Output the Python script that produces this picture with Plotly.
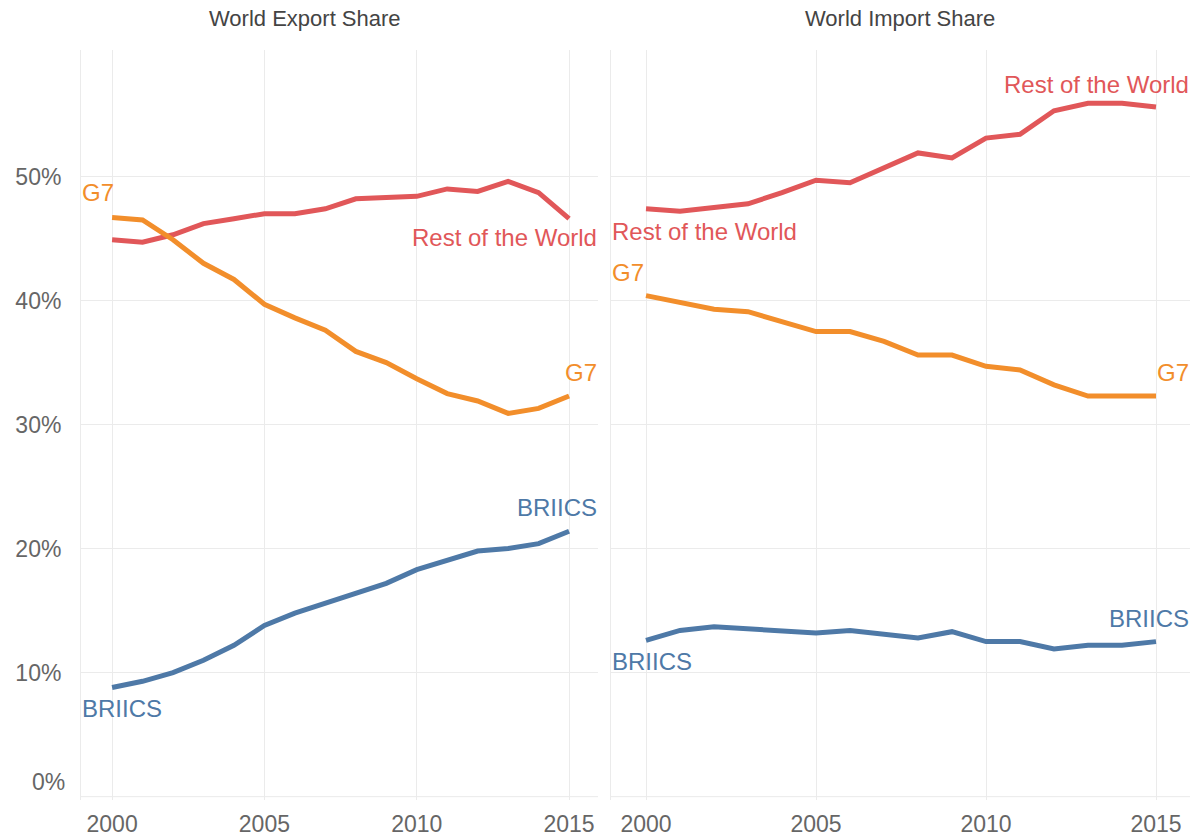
import plotly.graph_objects as go

years = list(range(2000, 2016))

# world export share (%)
exp_rest = [44.9, 44.7, 45.3, 46.2, 46.6, 47.0, 47.0, 47.4, 48.2, 48.3, 48.4, 49.0, 48.8, 49.6, 48.7, 46.6]
exp_g7 = [46.7, 46.5, 44.9, 43.0, 41.7, 39.7, 38.6, 37.6, 35.9, 35.0, 33.7, 32.5, 31.9, 30.9, 31.3, 32.3]
exp_briics = [8.8, 9.3, 10.0, 11.0, 12.2, 13.8, 14.8, 15.6, 16.4, 17.2, 18.3, 19.0, 19.8, 20.0, 20.4, 21.4]

# world import share (%)
imp_rest = [47.4, 47.2, 47.5, 47.8, 48.7, 49.7, 49.5, 50.7, 51.9, 51.5, 53.1, 53.4, 55.3, 55.9, 55.9, 55.6]
imp_g7 = [40.4, 39.8, 39.3, 39.1, 38.3, 37.5, 37.5, 36.7, 35.6, 35.6, 34.7, 34.4, 33.2, 32.3, 32.3, 32.3]
imp_briics = [12.6, 13.4, 13.7, 13.5, 13.4, 13.2, 13.4, 13.1, 12.8, 13.3, 12.5, 12.5, 11.9, 12.2, 12.2, 12.5]

panel_titles = ["World Export Share", "World Import Share"]
y_ticks = [10, 20, 30, 40, 50]
y_ticktext = ["10%", "20%", "30%", "40%", "50%"]
x_ticks = [2000, 2005, 2010, 2015]

RED = "#E15759"
ORANGE = "#F28E2B"
BLUE = "#4E79A7"
GRID = "#EBEBEB"
FONT = "Liberation Sans, Arial, sans-serif"

fig = go.Figure()

series = [
    (exp_rest, RED, "x", "y"), (exp_g7, ORANGE, "x", "y"), (exp_briics, BLUE, "x", "y"),
    (imp_rest, RED, "x2", "y2"), (imp_g7, ORANGE, "x2", "y2"), (imp_briics, BLUE, "x2", "y2"),
]
for vals, col, xa, ya in series:
    fig.add_trace(go.Scatter(x=years, y=vals, mode="lines", xaxis=xa, yaxis=ya,
                             line=dict(color=col, width=5), showlegend=False, hoverinfo="skip"))

axis_common = dict(showgrid=True, gridcolor=GRID, gridwidth=1, zeroline=False, ticks="",
                   tickfont=dict(size=23, color="#666666", family=FONT))

fig.update_layout(
    width=1190, height=837,
    margin=dict(l=81, r=0, t=50, b=37),
    plot_bgcolor="white", paper_bgcolor="white",
    font=dict(family=FONT),
    xaxis=dict(domain=[0, 0.4662], range=[1998.98, 2015.95], tickvals=x_ticks, anchor="y",
               ticklabelstandoff=8, **axis_common),
    xaxis2=dict(domain=[0.4779, 1], range=[1998.97, 2016.0], tickvals=x_ticks, anchor="y2",
                ticklabelstandoff=8, **axis_common),
    yaxis=dict(range=[-0.27, 60.2], tickvals=y_ticks, ticktext=y_ticktext, anchor="x",
               showline=True, linecolor=GRID, ticklabelstandoff=14, **axis_common),
    yaxis2=dict(range=[-0.27, 60.2], tickvals=y_ticks, showticklabels=False, anchor="x2",
                showline=True, linecolor=GRID, **axis_common),
)

# 0% gridline; its label sits a bit higher in the original
fig.add_shape(type="line", xref="x domain", yref="y", x0=0, x1=1, y0=0, y1=0, line=dict(color=GRID, width=1), layer="below")
fig.add_shape(type="line", xref="x2 domain", yref="y2", x0=0, x1=1, y0=0, y1=0, line=dict(color=GRID, width=1), layer="below")
fig.add_annotation(xref="x domain", yref="y", x=0, y=0, text="0%", showarrow=False, xanchor="right",
                   xshift=-14, yshift=15, font=dict(size=23, color="#666666"))

# facet titles
fig.add_annotation(xref="paper", yref="paper", x=(305 - 81) / 1109, y=1, yshift=32, xanchor="center",
                   yanchor="middle", text=panel_titles[0], showarrow=False, font=dict(size=22, color="#444444"))
fig.add_annotation(xref="x2 domain", yref="paper", x=0.5, y=1, yshift=32, xanchor="center",
                   yanchor="middle", text=panel_titles[1], showarrow=False, font=dict(size=22, color="#444444"))

# direct line labels
labels = [
    ("x domain", "y", 0, "left", 48.7, "G7", ORANGE),
    ("x domain", "y", 1, "right", 45.05, "Rest of the World", RED),
    ("x domain", "y", 1, "right", 34.2, "G7", ORANGE),
    ("x domain", "y", 1, "right", 23.3, "BRIICS", BLUE),
    ("x domain", "y", 0, "left", 7.1, "BRIICS", BLUE),
    ("x2 domain", "y2", 1, "right", 57.4, "Rest of the World", RED),
    ("x2 domain", "y2", 0, "left", 45.6, "Rest of the World", RED),
    ("x2 domain", "y2", 0, "left", 42.3, "G7", ORANGE),
    ("x2 domain", "y2", 1, "right", 34.2, "G7", ORANGE),
    ("x2 domain", "y2", 1, "right", 14.4, "BRIICS", BLUE),
    ("x2 domain", "y2", 0, "left", 10.9, "BRIICS", BLUE),
]
for xr, yr, xv, anc, yv, txt, col in labels:
    fig.add_annotation(xref=xr, yref=yr, x=xv, y=yv, text=txt, showarrow=False, xanchor=anc,
                       yanchor="middle", borderpad=0, font=dict(size=24, color=col))

# drop the default page margin so the 1190x837 figure fills the window exactly
fig.write_html("out.html", config={"displayModeBar": False},
               post_script="document.body.style.margin='0';document.body.style.overflow='hidden';")
